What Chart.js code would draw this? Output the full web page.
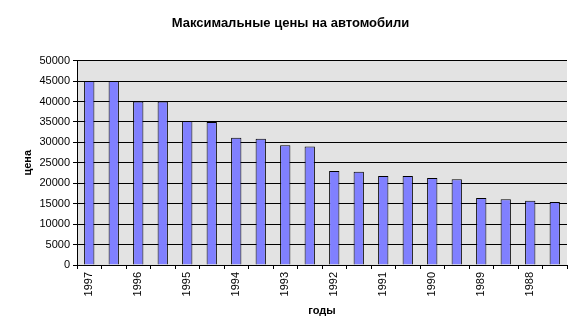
<!DOCTYPE html>
<html>
<head>
<meta charset="utf-8">
<script src="https://cdn.jsdelivr.net/npm/chart.js@4"></script>
<style>
    html, body { margin: 0; padding: 0; background: #ffffff; }
    #wrap { width: 581px; height: 336px; }
</style>
</head>
<body>
<div id="wrap"><canvas id="priceChart"></canvas></div>
<script>
// Категории: подписи показаны через одну, как в исходной диаграмме
const categories = ['1997', '', '1996', '', '1995', '', '1994', '', '1993', '',
                    '1992', '', '1991', '', '1990', '', '1989', '', '1988', ''];

// Максимальные цены
const prices = [45000, 45000, 40000, 40000, 35250, 35000, 31100, 30900, 29300, 29000,
                23000, 22800, 21800, 21800, 21300, 21000, 16400, 16100, 15700, 15400];

const yTicks = { min: 0, max: 50000, step: 5000 };

const FONT = 'Liberation Sans, Arial, sans-serif';

// Gray plot area like the old Excel charts
const plotBackground = {
    id: 'plotBackground',
    beforeDraw(chart) {
        const { ctx, chartArea } = chart;
        ctx.save();
        ctx.fillStyle = '#e3e3e3';
        ctx.fillRect(chartArea.left, chartArea.top, chartArea.right - chartArea.left, chartArea.bottom - chartArea.top);
        ctx.restore();
    }
};

const ctx = document.getElementById('priceChart').getContext('2d');

new Chart(ctx, {
    type: 'bar',
    data: {
        labels: categories,
        datasets: [
            {
                label: 'цена',
                data: prices,
                backgroundColor: '#8080ff',
                borderColor: '#000000',
                borderWidth: 1,
                barPercentage: 0.42,
                categoryPercentage: 1
            }
        ]
    },
    options: {
        responsive: true,
        maintainAspectRatio: false,
        animation: false,
        layout: { padding: 0 },
        plugins: {
            legend: { display: false },
            tooltip: { enabled: false },
            title: {
                display: true,
                text: 'Максимальные цены на автомобили',
                color: '#000000',
                font: { family: FONT, size: 13, weight: 'bold' },
                padding: { top: 16, bottom: 29 }
            }
        },
        scales: {
            x: {
                afterFit: (scale) => { scale.height = 71; },
                grid: { drawOnChartArea: false, drawTicks: true, tickLength: 4, color: '#000000' },
                border: { color: '#000000' },
                ticks: {
                    color: '#000000',
                    autoSkip: false,
                    minRotation: 90,
                    maxRotation: 90,
                    padding: 3,
                    font: { family: FONT, size: 11 }
                },
                title: {
                    display: true,
                    text: 'годы',
                    color: '#000000',
                    font: { family: FONT, size: 11, weight: 'bold' },
                    padding: { top: 0, bottom: 18 }
                }
            },
            y: {
                min: yTicks.min,
                max: yTicks.max,
                afterFit: (scale) => { scale.width = 77; },
                grid: { color: '#000000', tickLength: 4 },
                border: { color: '#000000' },
                ticks: {
                    stepSize: yTicks.step,
                    color: '#000000',
                    padding: 3,
                    font: { family: FONT, size: 11 },
                    callback: (value) => String(value)
                },
                title: {
                    display: true,
                    text: 'цена',
                    color: '#000000',
                    font: { family: FONT, size: 11, weight: 'bold' },
                    padding: { top: 21, bottom: 0 }
                }
            },
            // empty right-hand strip so the title stays centred on the canvas
            spacer: {
                position: 'right',
                min: yTicks.min,
                max: yTicks.max,
                afterFit: (scale) => { scale.width = 14; },
                grid: { display: false },
                border: { display: false },
                ticks: { display: false }
            }
        }
    },
    plugins: [plotBackground]
});
</script>
</body>
</html>
